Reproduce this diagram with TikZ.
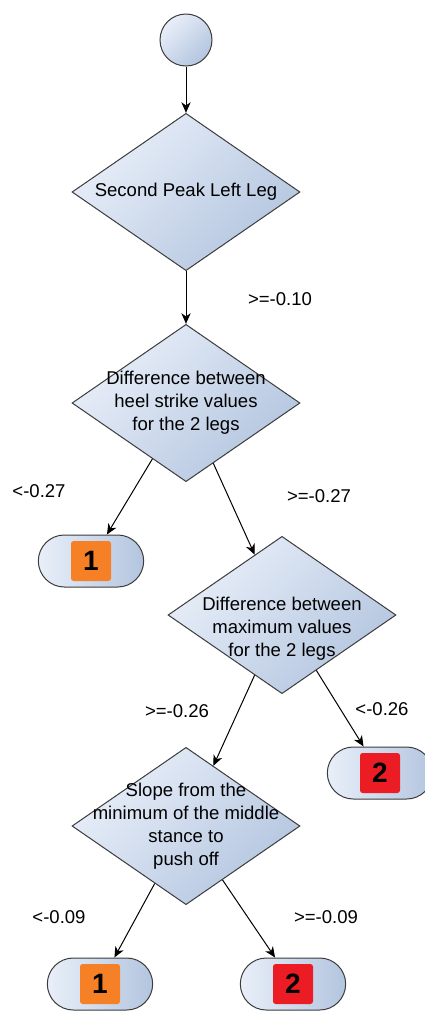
\documentclass[tikz,border=0pt]{standalone}
\usepackage{fontspec}
\setmainfont{Liberation Sans}
\usetikzlibrary{arrows.meta,positioning,shapes.geometric,shapes.misc}
\definecolor{boxlight}{HTML}{E9EFF9}
\definecolor{boxdark}{HTML}{B3C5DF}
\definecolor{outline}{HTML}{3C3C3C}
\definecolor{classone}{HTML}{F68026}
\definecolor{classtwo}{HTML}{EC1C24}

\begin{document}
\begin{tikzpicture}[x=0.75pt,y=-0.75pt,
  every node/.style={font=\fontsize{13.9}{17.25}\selectfont},
  decision/.style={diamond,draw=outline,line width=0.75pt,top color=boxlight,bottom color=boxdark,shading angle=45,minimum width=171pt,minimum height=118pt,inner sep=0pt},
  ask/.style={align=center,inner sep=0pt},
  leaf/.style={rounded rectangle,draw=outline,line width=0.75pt,left color=boxlight,right color=boxdark,minimum width=79pt,minimum height=39pt,inner sep=0pt},
  answer/.style={minimum size=30pt,inner sep=0pt,rounded corners=2pt,font=\fontsize{21}{21}\selectfont\bfseries},
  flow/.style={-{Stealth[length=8pt,width=7pt,inset=2.5pt]},line width=0.75pt,black},
  guard/.style={inner sep=0pt}]
  \useasboundingbox (0,0) rectangle (425,1011);

  % start and questions
  \node[circle,draw=outline,line width=0.75pt,top color=boxlight,bottom color=boxdark,shading angle=45,minimum size=39pt] (start) at (186,40) {};
  \node[decision] (peak) at (186,192) {};
  \node[ask] (peak-q) at (peak) {Second Peak Left Leg};
  \node[decision] (heel) at (186,403) {};
  \node[ask] (heel-q) at (heel) {Difference between\\heel strike values\\for the 2 legs};
  \node[decision] (maxdiff) at (282,615) {};
  \node[ask] (maxdiff-q) at ([yshift=-10pt]maxdiff.center) {Difference between\\maximum values\\for the 2 legs};
  \node[decision] (slope) at (186,826) {};
  \node[ask] (slope-q) at (slope) {Slope from the\\minimum of the middle\\stance to\\push off};

  % leaves
  \node[leaf] (leafA) at (91,561) {};
  \node[answer,fill=classone] (leafA-num) at (leafA) {1};
  \node[leaf] (leafB) at (380,773) {};
  \node[answer,fill=classtwo] (leafB-num) at (leafB) {2};
  \node[leaf] (leafC) at (100,984) {};
  \node[answer,fill=classone] (leafC-num) at (leafC) {1};
  \node[leaf] (leafD) at (293,984) {};
  \node[answer,fill=classtwo] (leafD-num) at (leafD) {2};

  % branches
  \draw[flow] (start) -- (peak);
  \draw[flow] (peak) -- (heel);
  \draw[flow] (heel) -- (leafA);
  \draw[flow] (heel) -- (maxdiff);
  \draw[flow] (maxdiff) -- (leafB);
  \draw[flow] (maxdiff) -- (slope);
  \draw[flow] (slope) -- (leafC);
  \draw[flow] (slope) -- (leafD);

  % thresholds
  \node[guard] (cut-peak) at (280,299) {>=-0.10};
  \node[guard] (cut-heel-lo) at (39,491) {<-0.27};
  \node[guard] (cut-heel-hi) at (319,496) {>=-0.27};
  \node[guard] (cut-max-hi) at (177,711) {>=-0.26};
  \node[guard] (cut-max-lo) at (382,709) {<-0.26};
  \node[guard] (cut-slope-lo) at (59,917) {<-0.09};
  \node[guard] (cut-slope-hi) at (326,917) {>=-0.09};
\end{tikzpicture}
\end{document}
